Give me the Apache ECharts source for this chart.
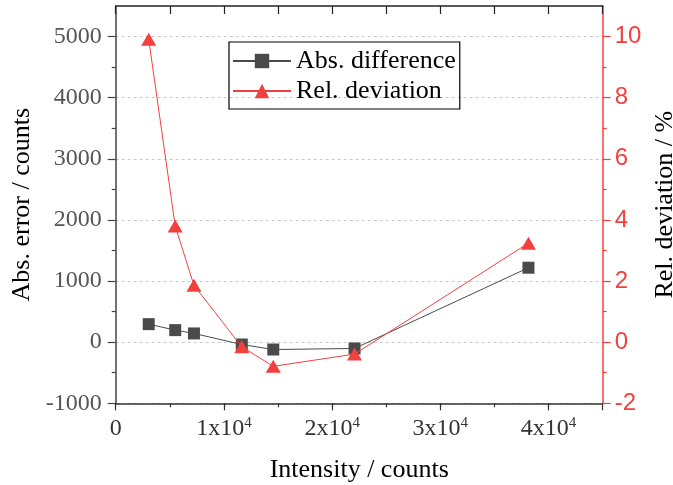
<!DOCTYPE html>
<html>
<head>
<meta charset="utf-8">
<script src="https://cdn.jsdelivr.net/npm/echarts@6/dist/echarts.min.js"></script>
<style>html,body{margin:0;padding:0;background:#fff}#c{width:673px;height:485px}</style>
</head>
<body>
<div id="c"></div>
<script>
const intensity = [3050, 5500, 7230, 11650, 14560, 22070, 38140];
const absDiff = [295, 197, 143, -38, -120, -103, 1218];
const relDev = [9.91, 3.80, 1.86, -0.15, -0.79, -0.39, 3.24];
const leftMajor = [-1000, 0, 1000, 2000, 3000, 4000, 5000];
const leftMinor = [-500, 500, 1500, 2500, 3500, 4500];
const rightMajor = [-2, 0, 2, 4, 6, 8, 10];
const rightMinor = [-1, 1, 3, 5, 7, 9];

const FONT = '"Liberation Serif", "Times New Roman", serif';
const SANS = '"Liberation Sans", Arial, sans-serif';
const RED = '#f2403f';
const GRAY = '#4a4a4a';
const chart = echarts.init(document.getElementById('c'), null, {renderer: 'canvas'});

function xLab(v) {
  if (v === 0) return '{b|0}';
  if (v % 10000 !== 0) return '';
  return '{b|' + (v / 10000) + 'x10}{s|4}';
}
const xRich = {
  b: {fontFamily: FONT, fontSize: 24, lineHeight: 26, color: '#333'},
  s: {fontFamily: FONT, fontSize: 15, lineHeight: 14, color: '#333', verticalAlign: 'top'}
};

const pair = (xs, ys) => xs.map((x, i) => [x, ys[i]]);

chart.setOption({
  animation: false,
  grid: {left: 115.7, right: 70.3, top: 6, bottom: 81.7, containLabel: false, outerBoundsMode: 'none'},
  legend: {
    left: 229, top: 42, orient: 'vertical',
    borderColor: '#000', borderWidth: 1.2,
    padding: [6, 4, 5, 3],
    itemWidth: 58, itemHeight: 18, itemGap: 4,
    textStyle: {fontFamily: FONT, fontSize: 26, color: '#000'},
    data: ['Abs. difference', 'Rel. deviation']
  },
  xAxis: [
    {
      type: 'value', position: 'bottom', min: 0, max: 45000, interval: 5000,
      name: 'Intensity / counts', nameLocation: 'middle', nameGap: 54,
      nameTextStyle: {fontFamily: FONT, fontSize: 26, color: '#000'},
      axisLine: {show: true, onZero: false, lineStyle: {color: '#333', width: 1.5}},
      axisTick: {show: true, inside: false, length: 4, lineStyle: {color: '#333', width: 1.2}},
      axisLabel: {formatter: xLab, rich: xRich, margin: 12, showMaxLabel: false},
      splitLine: {show: false}
    },
    {
      type: 'value', position: 'bottom', min: 0, max: 45000, interval: 10000,
      axisLine: {show: false, onZero: false},
      axisTick: {show: true, inside: false, length: 7, lineStyle: {color: '#333', width: 1.2}},
      axisLabel: {show: false},
      splitLine: {show: false}
    },
    {
      type: 'value', position: 'top', min: 0, max: 45000, interval: 5000,
      axisLine: {show: true, onZero: false, lineStyle: {color: '#222', width: 1.5}},
      axisTick: {show: true, inside: true, length: 8, lineStyle: {color: '#222', width: 1.2}},
      axisLabel: {show: false},
      splitLine: {show: false}
    }
  ],
  yAxis: [
    {
      type: 'value', position: 'left', min: -1000, max: 5500, interval: 1000,
      name: 'Abs. error / counts', nameLocation: 'middle', nameGap: 74, nameRotate: 90,
      nameTextStyle: {fontFamily: FONT, fontSize: 26, color: '#000'},
      axisLine: {show: true, onZero: false, lineStyle: {color: '#444', width: 1.5}},
      axisTick: {show: true, inside: false, length: 8, lineStyle: {color: '#444', width: 1.2}, customValues: leftMajor},
      axisLabel: {fontFamily: FONT, fontSize: 24, color: '#555', margin: 14, customValues: leftMajor, formatter: v => String(v)},
      splitLine: {show: true, lineStyle: {color: '#c8c8c8', type: [3, 3], width: 1}}
    },
    {
      type: 'value', position: 'left', min: -1000, max: 5500, interval: 500,
      axisLine: {show: false, onZero: false},
      axisTick: {show: true, inside: false, length: 4, lineStyle: {color: '#444', width: 1.2}, customValues: leftMinor},
      axisLabel: {show: false},
      splitLine: {show: false}
    },
    {
      type: 'value', position: 'right', min: -2, max: 11, interval: 2,
      name: 'Rel. deviation / %', nameLocation: 'middle', nameGap: 43, nameRotate: 90,
      nameTextStyle: {fontFamily: FONT, fontSize: 26, color: '#000'},
      axisLine: {show: true, onZero: false, lineStyle: {color: RED, width: 1.5}},
      axisTick: {show: true, inside: false, length: 8, lineStyle: {color: RED, width: 1.2}, customValues: rightMajor},
      axisLabel: {fontFamily: SANS, fontSize: 24, color: RED, margin: 12, customValues: rightMajor, formatter: v => String(v)},
      splitLine: {show: false}
    },
    {
      type: 'value', position: 'right', min: -2, max: 11, interval: 1,
      axisLine: {show: false, onZero: false},
      axisTick: {show: true, inside: false, length: 4, lineStyle: {color: RED, width: 1.2}, customValues: rightMinor},
      axisLabel: {show: false},
      splitLine: {show: false}
    }
  ],
  series: [
    {
      name: 'Abs. difference', type: 'line', xAxisIndex: 0, yAxisIndex: 0,
      data: pair(intensity, absDiff),
      symbol: 'rect', symbolSize: 12,
      itemStyle: {color: GRAY},
      lineStyle: {color: GRAY, width: 1},
      z: 3
    },
    {
      name: 'Rel. deviation', type: 'line', xAxisIndex: 0, yAxisIndex: 2,
      data: pair(intensity, relDev),
      symbol: 'triangle', symbolSize: [15, 13],
      itemStyle: {color: RED},
      lineStyle: {color: RED, width: 1},
      z: 4
    }
  ]
});
</script>
</body>
</html>
